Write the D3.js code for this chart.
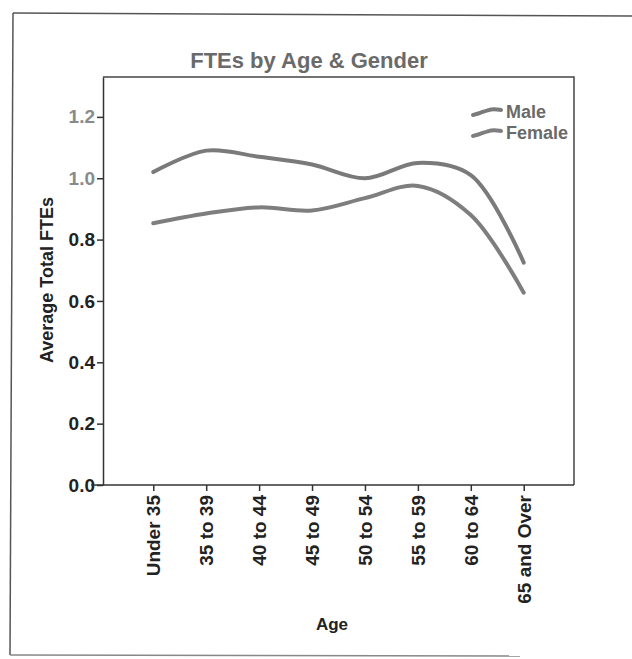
<!DOCTYPE html>
<html>
<head>
<meta charset="utf-8">
<script src="https://cdn.jsdelivr.net/npm/d3@7"></script>
<style>
  html, body { margin: 0; padding: 0; background: #fff; }
  svg { display: block; font-family: "Liberation Sans", Arial, sans-serif; }
</style>
</head>
<body>
<svg id="chart" width="632" height="659"></svg>
<script>
const categories = ["Under 35", "35 to 39", "40 to 44", "45 to 49", "50 to 54", "55 to 59", "60 to 64", "65 and Over"];
const maleValues   = [1.02, 1.09, 1.07, 1.045, 1.0, 1.05, 1.01, 0.725];
const femaleValues = [0.853, 0.885, 0.905, 0.895, 0.935, 0.975, 0.88, 0.627];
const yTicks = [0.0, 0.2, 0.4, 0.6, 0.8, 1.0, 1.2];
const seriesNames = ["Male", "Female"];

const svg = d3.select("#chart");
const plot = { left: 103, right: 574, top: 77, bottom: 485 };
const FONT = "Liberation Sans, Arial, sans-serif";

// outer frame
const frame = svg.append("g").attr("stroke", "#555").attr("stroke-width", 1.5).attr("fill", "none");
frame.append("line").attr("x1", 13).attr("y1", 13).attr("x2", 632).attr("y2", 16);
frame.append("line").attr("x1", 13).attr("y1", 13).attr("x2", 10).attr("y2", 655);
frame.append("line").attr("x1", 10).attr("y1", 655).attr("x2", 520).attr("y2", 656).attr("stroke", "#888");

const x = d3.scalePoint().domain(categories).range([plot.left, plot.right]).padding(0.95);
const y = d3.scaleLinear().domain([0, 1.33]).range([plot.bottom, plot.top]);

// plot box (top and right edges)
svg.append("path")
  .attr("d", `M${plot.left},${plot.top}H${plot.right}V${plot.bottom}`)
  .attr("fill", "none").attr("stroke", "#444").attr("stroke-width", 1.5);

// title
svg.append("text").attr("x", 309).attr("y", 68).attr("text-anchor", "middle")
  .attr("font-size", 22).attr("font-weight", "bold").attr("fill", "#6a6a6a")
  .text("FTEs by Age & Gender");

// y axis
const yAxis = svg.append("g").attr("transform", `translate(${plot.left},0)`)
  .call(d3.axisLeft(y).tickValues(yTicks).tickFormat(d3.format(".1f")).tickSize(6).tickPadding(2).tickSizeOuter(0));
yAxis.select(".domain").attr("stroke", "#333").attr("stroke-width", 1.5);
yAxis.selectAll(".tick line").attr("stroke", "#333").attr("stroke-width", 1.5);
yAxis.selectAll(".tick text").attr("font-size", 19).attr("font-weight", "bold")
  .attr("font-family", FONT)
  .attr("fill", d => d >= 1 ? "#8a8a8a" : "#222");

// x axis
const xAxis = svg.append("g").attr("transform", `translate(0,${plot.bottom})`)
  .call(d3.axisBottom(x).tickSize(6).tickSizeOuter(0));
xAxis.select(".domain").attr("d", `M${plot.left - 12},0H${plot.right}`).attr("stroke", "#333").attr("stroke-width", 1.5);
xAxis.selectAll(".tick line").attr("stroke", "#333").attr("stroke-width", 1.5);
xAxis.selectAll(".tick text")
  .attr("font-size", 19).attr("font-weight", "bold").attr("fill", "#222")
  .attr("font-family", FONT)
  .attr("text-anchor", "end")
  .attr("transform", "rotate(-90)")
  .attr("x", -10).attr("y", 0).attr("dy", "0.35em");

// axis titles
svg.append("text").attr("transform", "translate(53,280) rotate(-90)").attr("text-anchor", "middle")
  .attr("font-size", 18).attr("font-weight", "bold").attr("fill", "#222")
  .text("Average Total FTEs");
svg.append("text").attr("x", 332).attr("y", 630).attr("text-anchor", "middle")
  .attr("font-size", 17).attr("font-weight", "bold").attr("fill", "#222")
  .text("Age");

// lines
const line = d3.line()
  .x((d, i) => x(categories[i]))
  .y(d => y(d))
  .curve(d3.curveCatmullRom.alpha(0.5));

const series = [
  { name: seriesNames[0], values: maleValues, color: "#7a7a7a" },
  { name: seriesNames[1], values: femaleValues, color: "#7e7e7e" }
];

svg.append("g").selectAll("path").data(series).join("path")
  .attr("d", d => line(d.values))
  .attr("fill", "none").attr("stroke", d => d.color)
  .attr("stroke-width", 4).attr("stroke-linecap", "round");

// legend
const squiggle = d3.line().curve(d3.curveBasis);
const legend = svg.append("g");
series.forEach((s, i) => {
  const ly = 112 + i * 21;
  legend.append("path")
    .attr("d", squiggle([[473, ly + 3], [480, ly + 1], [488, ly - 2], [494, ly - 3], [501, ly - 2]]))
    .attr("fill", "none").attr("stroke", s.color).attr("stroke-width", 4).attr("stroke-linecap", "round");
  legend.append("text").attr("x", 506).attr("y", ly).attr("dy", "0.35em")
    .attr("font-size", 18).attr("font-weight", "bold").attr("fill", "#6a6a6a")
    .text(s.name);
});
</script>
</body>
</html>
